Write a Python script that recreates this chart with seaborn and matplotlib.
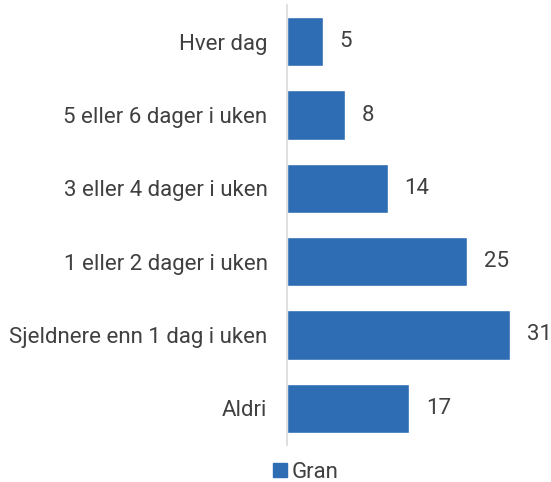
import matplotlib
import matplotlib.pyplot as plt
import pandas as pd
import seaborn as sns
from matplotlib.patches import Patch

matplotlib.use("agg")

categories = ["Hver dag", "5 eller 6 dager i uken", "3 eller 4 dager i uken",
              "1 eller 2 dager i uken", "Sjeldnere enn 1 dag i uken", "Aldri"]
values = [5, 8, 14, 25, 31, 17]
series_name = "Gran"

sns.set_style("white")
plt.rcParams["font.family"] = ["Roboto", "DejaVu Sans"]

bar_color = "#2E6DB4"
text_color = "#404040"

df = pd.DataFrame({"kategori": categories, "verdi": values})

fig = plt.figure(figsize=(5.51, 4.82), dpi=100)
ax = fig.add_axes([0.5209, 0.0768, 0.4574, 0.9128])
sns.barplot(data=df, y="kategori", x="verdi", orient="h", color=bar_color,
            saturation=1, width=0.67, ax=ax)
for c in ax.containers:
    ax.bar_label(c, labels=[str(v) for v in values], padding=12,
                 fontsize=16, color=text_color)

ax.set_xlim(0, 35)
ax.set_ylim(5.5, -0.5)
ax.set_xlabel("")
ax.set_ylabel("")
ax.set_xticks([])
ax.tick_params(axis="y", length=0, pad=14, labelsize=16, labelcolor=text_color)
for s in ["top", "right", "bottom"]:
    ax.spines[s].set_visible(False)
ax.spines["left"].set_color("#d9d9d9")
ax.spines["left"].set_linewidth(1.2)

fig.legend(handles=[Patch(color=bar_color, label=series_name)],
           loc="center", bbox_to_anchor=(0.555, 0.02), frameon=False,
           fontsize=16, handlelength=0.6, handleheight=0.6, handletextpad=0.2,
           labelcolor=text_color, borderpad=0)

fig.savefig("out.png", dpi=100)
